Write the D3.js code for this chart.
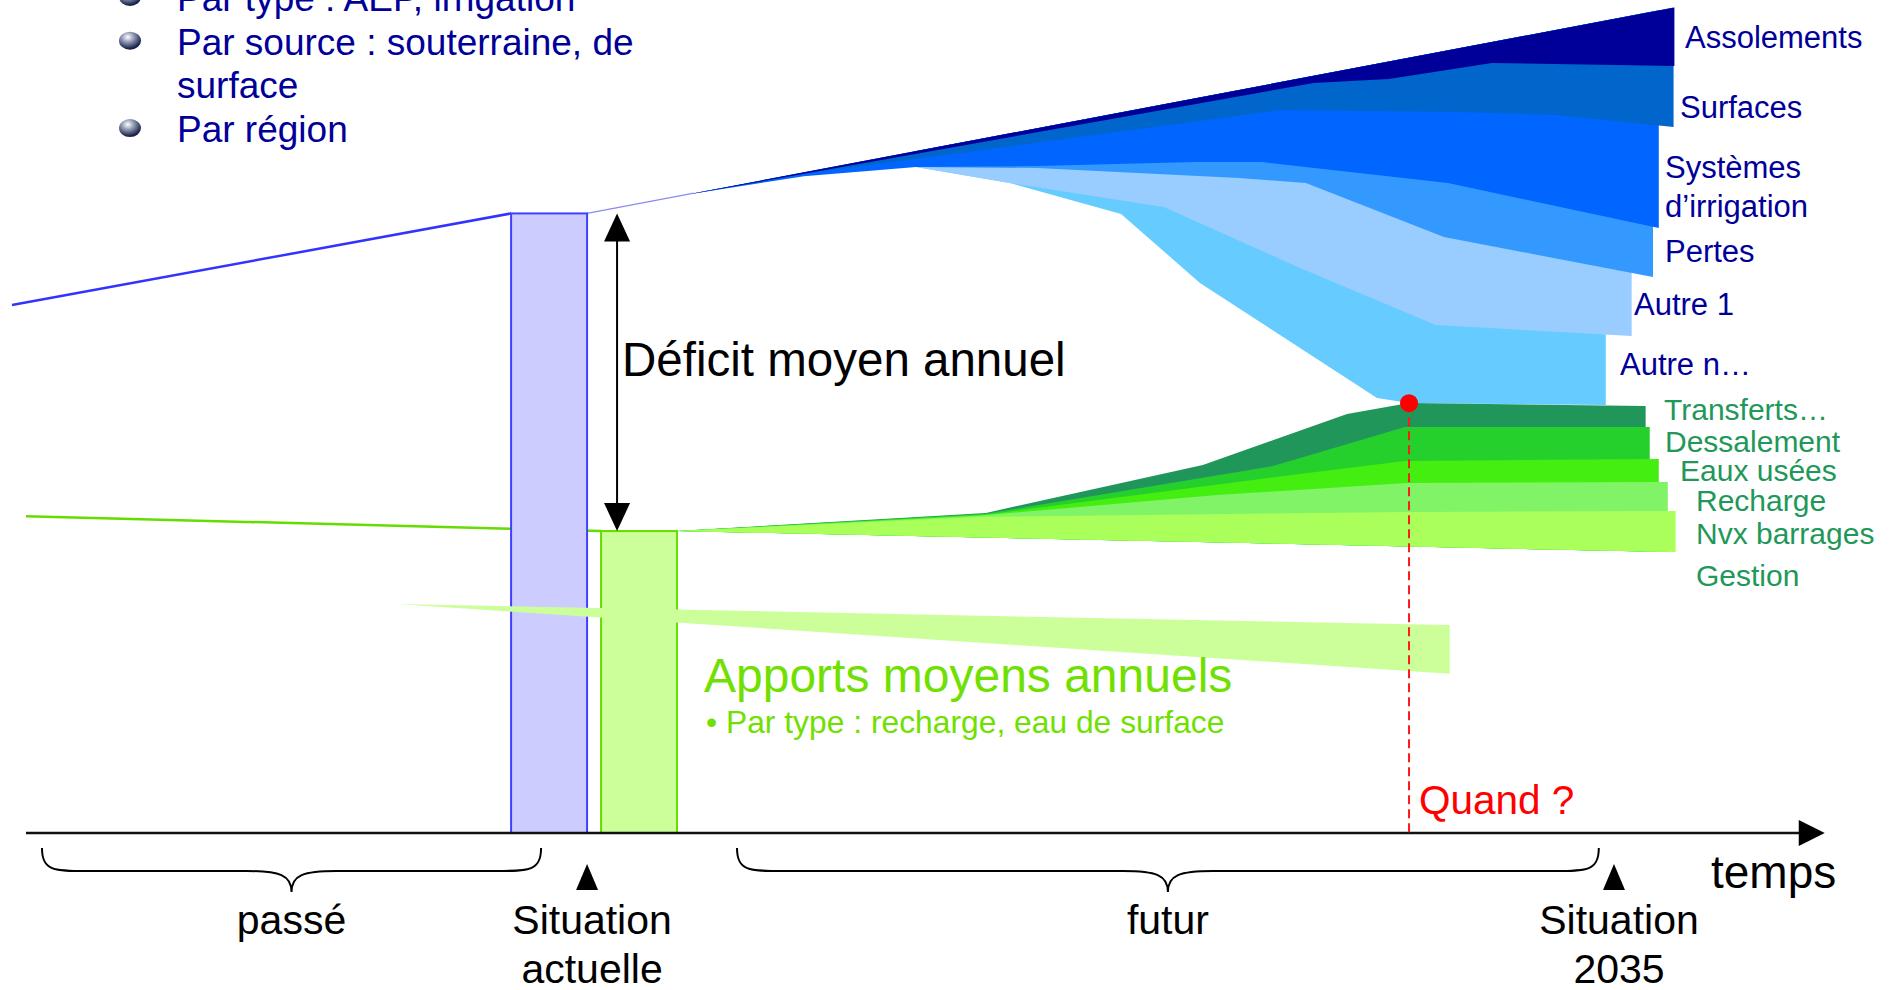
<!DOCTYPE html>
<html>
<head>
<meta charset="utf-8">
<script src="https://cdnjs.cloudflare.com/ajax/libs/d3/7.8.5/d3.min.js"></script>
<style>
  html, body { margin: 0; padding: 0; background: #fff; overflow: hidden; }
  svg { display: block; font-family: "Liberation Sans", Arial, sans-serif; }
</style>
</head>
<body>
<script>
// time in years, volumes in arbitrary units (0 = time axis)
var demandPast   = [[1996.0, 64.0], [2008.15, 75.1]];
var demandFuture = [[2010.0, 75.1], [2036.5, 100.1]];
var supplyPast   = [[1996.34, 38.4], [2010.34, 36.6]];
var supplyFuture = [[2012.19, 36.6], [2036.5, 34.05]];

var barDemand = {from: 2008.15, to: 2010.0, value: 75.1};
var barSupply = {from: 2010.34, to: 2012.19, value: 36.6};
var deficitYear = 2010.73;

// demand reduction levers, lower edge of each band (stacked down from demand line)
var demandBands = ["Assolements", "Surfaces", "Systèmes d’irrigation", "Pertes", "Autre 1", "Autre n…"];
var demandEdges = [
  [[2012.6, 77.53], [2027.69, 90.91], [2029.52, 91.39], [2032.03, 93.33], [2036.47, 92.97]],
  [[2012.6, 77.53], [2015.3, 79.9], [2026.91, 87.64], [2031.15, 87.39], [2033.58, 87.03], [2036.45, 85.58]],
  [[2012.6, 77.53], [2015.28, 79.6], [2018.01, 80.73], [2020.95, 80.85], [2024.8, 81.33], [2026.43, 81.33], [2030.96, 78.79], [2036.09, 73.33]],
  [[2018.01, 80.73], [2020.95, 80.6], [2025.87, 79.39], [2027.5, 78.79], [2030.86, 72.24], [2035.95, 67.39]],
  [[2018.01, 80.73], [2020.29, 78.79], [2024.04, 75.88], [2027.3, 68.61], [2030.66, 61.58], [2035.43, 60.24]],
  [[2018.01, 80.73], [2020.29, 78.79], [2023.0, 75.03], [2024.92, 66.67], [2029.23, 52.73], [2030.01, 52.12], [2034.8, 51.88]]
];
var demandColors = ["#000099", "#0066cc", "#0066ff", "#3399ff", "#99ccff", "#66ccff"];

// new resources, upper edge of each band (stacked up from supply line)
var supplyBands = ["Nvx barrages", "Recharge", "Eaux usées", "Dessalement", "Transferts…"];
var supplyEdges = [
  [[2012.19, 36.6], [2019.54, 38.3], [2029.96, 38.91], [2036.5, 39.03]],
  [[2012.19, 36.6], [2019.54, 38.45], [2025.33, 40.97], [2029.96, 42.42], [2036.31, 42.55]],
  [[2012.19, 36.6], [2019.71, 38.6], [2027.35, 43.52], [2029.91, 45.09], [2036.09, 45.33]],
  [[2012.19, 36.6], [2019.71, 38.7], [2026.7, 44.48], [2029.91, 49.21], [2035.87, 49.21]],
  [[2012.19, 36.6], [2019.71, 38.8], [2024.99, 44.61], [2028.5, 50.79], [2030.01, 52.12], [2035.77, 51.76]]
];
var supplyColors = ["#aaff5a", "#80f466", "#44ee11", "#26d02c", "#21965a"];

// decline of natural inflows
var apportsTop    = [[2005.35, 27.76], [2031.0, 25.2]];
var apportsBottom = [[2005.35, 27.76], [2031.0, 19.3]];

var quand = [2030.01, 52.1];

var periods = [
  {label: "passé", from: 1996.73, to: 2008.88},
  {label: "futur", from: 2013.65, to: 2034.63}
];
var milestones = [
  {year: 2010.0, label: ["Situation", "actuelle"]},
  {year: 2035.0, label: ["Situation", "2035"]}
];
var axisRange = [1996.34, 2040.13];

var demandLabels = ["Assolements", "Surfaces", "Systèmes", "d’irrigation", "Pertes", "Autre 1", "Autre n…"];
var supplyLabels = ["Transferts…", "Dessalement", "Eaux usées", "Recharge", "Nvx barrages", "Gestion"];
var notes = ["Par type : AEP, irrigation", "Par source : souterraine, de", "surface", "Par région"];
var noteBullet = [true, true, false, true];

// layout (pixels)
var W = 1889, H = 990;
var demandLabelPos = [[1685, 48], [1680, 118], [1665, 178], [1665, 217], [1665, 262], [1634, 315], [1620, 375]];
var supplyLabelPos = [[1664, 420], [1665, 452], [1680, 481], [1696, 511], [1696, 544], [1696, 586]];

var x = d3.scaleLinear().domain([1996, 2035]).range([12, 1614]);
var y = d3.scaleLinear().domain([0, 100]).range([833, 8]);

var line = d3.line()
  .x(function(d) { return x(d[0]); })
  .y(function(d) { return y(d[1]); });

function lerp(pts, t) {
  var a = pts[0], b = pts[1];
  return a[1] + (b[1] - a[1]) * (t - a[0]) / (b[0] - a[0]);
}

// closed band between an edge and a straight reference line
function bandPath(edge, ref) {
  var first = edge[0][0], last = edge[edge.length - 1][0];
  var pts = edge.concat([[last, lerp(ref, last)], [first, lerp(ref, first)]]);
  return line(pts) + "Z";
}

var svg = d3.select("body")
  .append("svg")
  .attr("width", W)
  .attr("height", H);

var defs = svg.append("defs");
var ball = defs.append("radialGradient").attr("id", "ball")
  .attr("cx", "40%").attr("cy", "30%").attr("r", "65%");
ball.append("stop").attr("offset", "0%").attr("stop-color", "#ffffff");
ball.append("stop").attr("offset", "40%").attr("stop-color", "#9aa2ba");
ball.append("stop").attr("offset", "100%").attr("stop-color", "#16204a");

// demand bands, bottom one first so the ones above overlap it
for (var i = demandEdges.length - 1; i >= 0; i--) {
  svg.append("path")
    .attr("d", bandPath(demandEdges[i], demandFuture))
    .attr("fill", demandColors[i]);
}

// supply bands, top one first
for (var j = supplyEdges.length - 1; j >= 0; j--) {
  svg.append("path")
    .attr("d", bandPath(supplyEdges[j], supplyFuture))
    .attr("fill", supplyColors[j]);
}

// thin link from the present demand to the fan
svg.append("path")
  .attr("d", line([demandFuture[0], [2012.6, lerp(demandFuture, 2012.6)]]))
  .attr("fill", "none")
  .attr("stroke", "#8a8af0")
  .attr("stroke-width", 1.2);

// past trends
svg.append("path")
  .attr("d", line(demandPast))
  .attr("fill", "none")
  .attr("stroke", "#3333ff")
  .attr("stroke-width", 2.5);
svg.append("path")
  .attr("d", line(supplyPast))
  .attr("fill", "none")
  .attr("stroke", "#66dd00")
  .attr("stroke-width", 2.5);

// present situation bars
svg.append("rect")
  .attr("x", x(barDemand.from))
  .attr("y", y(barDemand.value))
  .attr("width", x(barDemand.to) - x(barDemand.from))
  .attr("height", y(0) - y(barDemand.value))
  .attr("fill", "#ccccff")
  .attr("stroke", "#4040ff")
  .attr("stroke-width", 2);
svg.append("rect")
  .attr("x", x(barSupply.from))
  .attr("y", y(barSupply.value))
  .attr("width", x(barSupply.to) - x(barSupply.from))
  .attr("height", y(0) - y(barSupply.value))
  .attr("fill", "#ccff99")
  .attr("stroke", "#66dd00")
  .attr("stroke-width", 2);

// inflow decline wedge
svg.append("path")
  .attr("d", line(apportsTop.concat(apportsBottom.slice().reverse())) + "Z")
  .attr("fill", "#ccff99");

// deficit double arrow
var ax = x(deficitYear), aTop = y(barDemand.value), aBot = y(barSupply.value);
svg.append("line")
  .attr("x1", ax).attr("x2", ax)
  .attr("y1", aTop + 20).attr("y2", aBot - 20)
  .attr("stroke", "#000").attr("stroke-width", 2);
svg.append("path")
  .attr("d", "M" + ax + "," + aTop + "L" + (ax - 13) + "," + (aTop + 28) + "L" + (ax + 13) + "," + (aTop + 28) + "Z")
  .attr("fill", "#000");
svg.append("path")
  .attr("d", "M" + ax + "," + aBot + "L" + (ax - 13) + "," + (aBot - 28) + "L" + (ax + 13) + "," + (aBot - 28) + "Z")
  .attr("fill", "#000");

// time axis
var y0 = y(0);
svg.append("line")
  .attr("x1", x(axisRange[0])).attr("x2", x(axisRange[1]) - 20)
  .attr("y1", y0).attr("y2", y0)
  .attr("stroke", "#111").attr("stroke-width", 2.5);
svg.append("path")
  .attr("d", "M" + x(axisRange[1]) + "," + y0 + "L" + (x(axisRange[1]) - 26) + "," + (y0 - 13) + "L" + (x(axisRange[1]) - 26) + "," + (y0 + 13) + "Z")
  .attr("fill", "#000");

// "when?" marker
svg.append("line")
  .attr("x1", x(quand[0])).attr("x2", x(quand[0]))
  .attr("y1", y(quand[1])).attr("y2", y0 + 4)
  .attr("stroke", "#ff1a1a")
  .attr("stroke-width", 2)
  .attr("stroke-dasharray", "9,5");
svg.append("circle")
  .attr("cx", x(quand[0])).attr("cy", y(quand[1]))
  .attr("r", 9)
  .attr("fill", "#ff0000");

// braces under the axis
function bracePath(x1, x2) {
  var top = y0 + 15, flat = y0 + 38, tip = y0 + 59, r = 45;
  var m = (x1 + x2) / 2;
  return "M" + x1 + "," + top +
    "C" + x1 + "," + flat + " " + (x1 + 12) + "," + flat + " " + (x1 + r) + "," + flat +
    "L" + (m - r) + "," + flat +
    "C" + (m - 12) + "," + flat + " " + m + "," + (flat + 4) + " " + m + "," + tip +
    "C" + m + "," + (flat + 4) + " " + (m + 12) + "," + flat + " " + (m + r) + "," + flat +
    "L" + (x2 - r) + "," + flat +
    "C" + (x2 - 12) + "," + flat + " " + x2 + "," + flat + " " + x2 + "," + top;
}

svg.selectAll("path.brace")
  .data(periods)
  .enter()
  .append("path")
  .attr("class", "brace")
  .attr("d", function(d) { return bracePath(x(d.from), x(d.to)); })
  .attr("fill", "none")
  .attr("stroke", "#000")
  .attr("stroke-width", 2);

svg.selectAll("text.period")
  .data(periods)
  .enter()
  .append("text")
  .attr("class", "period")
  .attr("x", function(d) { return (x(d.from) + x(d.to)) / 2; })
  .attr("y", y0 + 101)
  .attr("text-anchor", "middle")
  .attr("font-size", "41px")
  .text(function(d) { return d.label; });

svg.selectAll("path.milestone")
  .data(milestones)
  .enter()
  .append("path")
  .attr("class", "milestone")
  .attr("d", function(d) {
    var cx = x(d.year);
    return "M" + cx + "," + (y0 + 31) + "L" + (cx - 11) + "," + (y0 + 57) + "L" + (cx + 11) + "," + (y0 + 57) + "Z";
  })
  .attr("fill", "#000");

milestones.forEach(function(d) {
  d.label.forEach(function(t, k) {
    svg.append("text")
      .attr("x", x(d.year) + 5)
      .attr("y", y0 + 101 + k * 49)
      .attr("text-anchor", "middle")
      .attr("font-size", "41px")
      .text(t);
  });
});

svg.append("text")
  .attr("x", 1711).attr("y", y0 + 55)
  .attr("font-size", "46px")
  .text("temps");

// annotations
svg.append("text")
  .attr("x", ax + 5).attr("y", 376)
  .attr("font-size", "47.5px")
  .text("Déficit moyen annuel");

svg.append("text")
  .attr("x", 704).attr("y", 692)
  .attr("font-size", "48px")
  .attr("fill", "#70e000")
  .text("Apports moyens annuels");
svg.append("text")
  .attr("x", 706).attr("y", 733)
  .attr("font-size", "31.8px")
  .attr("fill", "#70e000")
  .text("• Par type : recharge, eau de surface");

svg.append("text")
  .attr("x", x(quand[0]) + 10).attr("y", 814)
  .attr("font-size", "40.5px")
  .attr("fill", "#ff0000")
  .text("Quand ?");

svg.selectAll("text.dlab")
  .data(demandLabels)
  .enter()
  .append("text")
  .attr("class", "dlab")
  .attr("x", function(d, i) { return demandLabelPos[i][0]; })
  .attr("y", function(d, i) { return demandLabelPos[i][1]; })
  .attr("font-size", "31px")
  .attr("fill", "#000099")
  .text(function(d) { return d; });

svg.selectAll("text.slab")
  .data(supplyLabels)
  .enter()
  .append("text")
  .attr("class", "slab")
  .attr("x", function(d, i) { return supplyLabelPos[i][0]; })
  .attr("y", function(d, i) { return supplyLabelPos[i][1]; })
  .attr("font-size", "30px")
  .attr("fill", "#22975a")
  .text(function(d) { return d; });

// bullet list at top left (first line cut by the frame)
notes.forEach(function(t, i) {
  var base = 11 + i * 43.7;
  if (noteBullet[i]) {
    svg.append("ellipse")
      .attr("cx", 130).attr("cy", base - 14)
      .attr("rx", 11).attr("ry", 9)
      .attr("fill", "url(#ball)");
  }
  svg.append("text")
    .attr("x", 177).attr("y", base)
    .attr("font-size", "37px")
    .attr("fill", "#000099")
    .text(t);
});
</script>
</body>
</html>
